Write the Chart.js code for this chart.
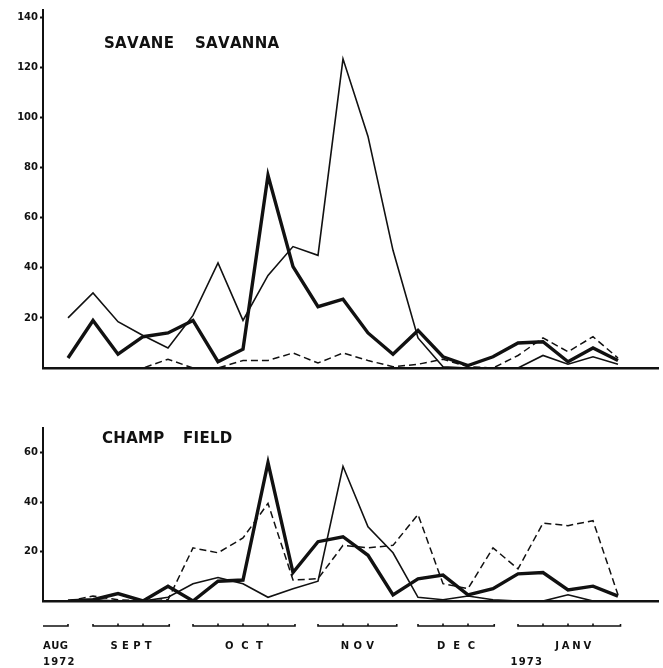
<!DOCTYPE html>
<html>
<head>
<meta charset="utf-8">
<script src="https://cdn.jsdelivr.net/npm/chart.js@4/dist/chart.umd.min.js"></script>
<style>
  html, body { margin: 0; padding: 0; background: #fff; }
  #wrap { position: relative; width: 663px; height: 668px; }
  canvas { position: absolute; left: 0; }
  #savanna { top: 0; }
  #field { top: 380px; }
</style>
</head>
<body>
<div id="wrap">
  <canvas id="savanna" width="663" height="380"></canvas>
  <canvas id="field" width="663" height="288"></canvas>
</div>
<script>
// Weekly samples, Aug 1972 - Jan 1973 (sample index along the time axis)
const samples = [0, 1, 2, 3, 4, 5, 6, 7, 8, 9, 10, 11, 12, 13, 14, 15, 16, 17, 18, 19, 20, 21, 22];

// Savanna counts
const savannaThin   = [20, 30, 18.5, 13, 8, 21, 42, 19, 37, 48.5, 45, 123.5, 92.5, 47, 12, 0.5, 0, 0, 0, 5, 1.5, 4.5, 1.5];
const savannaThick  = [4, 19, 5.5, 12.5, 14, 19, 2.5, 7.5, 77, 40.5, 24.5, 27.5, 14, 5.5, 15, 4.5, 1, 4.5, 10, 10.5, 2.5, 8, 3];
const savannaDashed = [0, 0, 0, 0, 3.5, 0, 0, 3, 3, 6, 2, 6, 3, 0.5, 1.5, 3.5, 0.5, 0, 5, 12, 6.5, 12.5, 4];

// Field counts
const fieldThin   = [0, 0.5, 0, 0, 1.5, 7, 9.5, 7, 1.5, 5, 8, 54.5, 30, 19.5, 1.5, 0.5, 2, 0.5, 0, 0, 2.5, 0, 0];
const fieldThick  = [0, 0.5, 3, 0, 6, 0, 8, 8.5, 56, 11.5, 24, 26, 18.5, 2.5, 9, 10.5, 2.5, 5, 11, 11.5, 4.5, 6, 2];
const fieldDashed = [0, 2, 0.5, 0, 0.5, 21.5, 19.5, 25.5, 39.5, 8.5, 9, 22.5, 21.5, 22.5, 35, 7, 5, 21.5, 13, 31.5, 30.5, 32.5, 2.5];

// Axis ticks
const savannaTicks = [20, 40, 60, 80, 100, 120, 140];
const fieldTicks = [20, 40, 60];

// Month brackets below the time axis (in sample units)
const months     = ['AUG', 'SEPT', 'OCT', 'NOV', 'DEC', 'JANV'];
const monthStart = [-1, 1, 5, 10, 14, 18];
const monthEnd   = [0, 4.05, 9.08, 13.15, 17.05, 22.1];
const years      = ['1972', '1973'];
const yearAt     = [-1, 17.7];

const INK = '#111';
const FONT = '"DejaVu Sans", sans-serif';
Chart.defaults.font.family = FONT;
Chart.defaults.color = INK;

function series(values, style) {
  return Object.assign({
    data: values.map((v, k) => ({ x: samples[k], y: v })),
    borderColor: INK,
    pointRadius: 0,
    tension: 0,
    fill: false,
    borderJoinStyle: 'miter',
    borderCapStyle: 'butt'
  }, style);
}
const thin = { borderWidth: 1.6 };
const thick = { borderWidth: 3.4 };
const dashed = { borderWidth: 1.5, borderDash: [7, 4] };

function yAxis(max, ticks) {
  return {
    min: 0, max,
    afterFit(s) { s.width = 43; },
    afterBuildTicks(s) { s.ticks = ticks.map(v => ({ value: v })); },
    grid: { drawOnChartArea: false, drawTicks: true, tickLength: 3, tickWidth: 2, color: INK },
    border: { display: true, color: INK, width: 2 },
    ticks: { padding: 2, color: INK, font: { size: 10, weight: 'bold' } }
  };
}
function xAxis() {
  return {
    type: 'linear', min: -1, max: 23.6,
    afterFit(s) { s.height = 0; },
    ticks: { display: false },
    grid: { display: true, drawOnChartArea: false, drawTicks: false },
    border: { display: true, color: INK, width: 2.5 }
  };
}

// Draw a string with extra spacing between characters
function spacedText(ctx, text, x, y, spacing, align) {
  const chars = text.split('');
  const widths = chars.map(c => ctx.measureText(c).width);
  const total = widths.reduce((a, b) => a + b, 0) + spacing * (chars.length - 1);
  let cx = align === 'center' ? x - total / 2 : x;
  ctx.textAlign = 'left';
  chars.forEach((c, k) => { ctx.fillText(c, cx, y); cx += widths[k] + spacing; });
}

const panelTitle = {
  id: 'panelTitle',
  afterDraw(chart, args, opts) {
    const { ctx, chartArea } = chart;
    ctx.save();
    ctx.fillStyle = INK;
    ctx.font = 'bold 15px ' + FONT;
    ctx.textBaseline = 'alphabetic';
    opts.words.forEach((w, k) => spacedText(ctx, w, chartArea.left + opts.dx[k], chartArea.top + opts.dy, 0.3, 'left'));
    ctx.restore();
  }
};

const monthBrackets = {
  id: 'monthBrackets',
  afterDraw(chart, args, opts) {
    if (!opts.show) return;
    const { ctx, chartArea } = chart;
    const x = chart.scales.x;
    const yLine = chartArea.bottom + 25;
    const spacing = [0.4, 4.3, 7.6, 4.2, 7.8, 2.8];
    ctx.save();
    ctx.strokeStyle = INK;
    ctx.fillStyle = INK;
    ctx.lineWidth = 1.6;
    months.forEach((m, k) => {
      const a = x.getPixelForValue(monthStart[k]);
      const b = x.getPixelForValue(monthEnd[k]);
      ctx.beginPath();
      ctx.moveTo(a, yLine - (k ? 2 : 0));
      ctx.lineTo(a, yLine);
      ctx.lineTo(b, yLine);
      ctx.lineTo(b, yLine - 2);
      ctx.stroke();
      for (let s = monthStart[k] + 1; s < monthEnd[k] - 0.2; s++) {
        const p = x.getPixelForValue(s);
        ctx.beginPath();
        ctx.moveTo(p, yLine);
        ctx.lineTo(p, yLine - 2.5);
        ctx.stroke();
      }
      ctx.font = 'bold 10px ' + FONT;
      if (k === 0) spacedText(ctx, m, a, chartArea.bottom + 48, spacing[k], 'left');
      else spacedText(ctx, m, (a + b) / 2 + (k === 5 ? 4 : 0), chartArea.bottom + 48, spacing[k], 'center');
    });
    ctx.font = 'bold 10px ' + FONT;
    years.forEach((y, k) => spacedText(ctx, y, x.getPixelForValue(yearAt[k]), chartArea.bottom + 64, 1.2, 'left'));
    ctx.restore();
  }
};

function makeChart(id, data, yMax, ticks, padding, title, showMonths) {
  return new Chart(document.getElementById(id), {
    type: 'line',
    data: {
      datasets: [series(data[0], thin), series(data[1], thick), series(data[2], dashed)]
    },
    options: {
      responsive: false,
      animation: false,
      devicePixelRatio: 1,
      layout: { padding },
      plugins: {
        legend: { display: false },
        tooltip: { enabled: false },
        panelTitle: title,
        monthBrackets: { show: showMonths }
      },
      scales: { x: xAxis(), y: yAxis(yMax, ticks) }
    },
    plugins: [panelTitle, monthBrackets]
  });
}

makeChart('savanna', [savannaThin, savannaThick, savannaDashed], 143, savannaTicks,
  { top: 10, right: 5, bottom: 12, left: 0 },
  { words: ['SAVANE', 'SAVANNA'], dx: [61, 152], dy: 38 }, false);

makeChart('field', [fieldThin, fieldThick, fieldDashed], 70, fieldTicks,
  { top: 48, right: 5, bottom: 67, left: 0 },
  { words: ['CHAMP', 'FIELD'], dx: [59, 140], dy: 15 }, true);
</script>
</body>
</html>
